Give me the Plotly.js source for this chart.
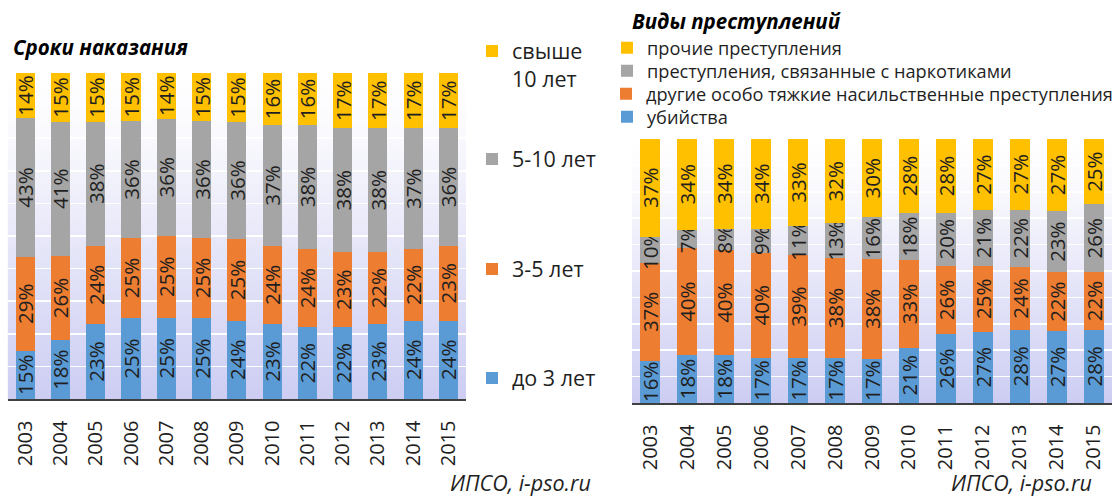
<!DOCTYPE html>
<html>
<head>
<meta charset="utf-8">
<script src="https://cdn.plot.ly/plotly-3.0.1.min.js"></script>
<style>html,body{margin:0;padding:0;background:#fff;}#chart{width:1118px;height:498px;}</style>
</head>
<body>
<div id="chart"></div>
<script>
// ---- data ----
const years = ['2003','2004','2005','2006','2007','2008','2009','2010','2011','2012','2013','2014','2015'];

const leftTitle = 'Сроки наказания';
const termNames = ['до 3 лет', '3-5 лет', '5-10 лет', 'свыше<br>10 лет'];
const termUpTo3 = [15, 18, 23, 25, 25, 25, 24, 23, 22, 22, 23, 24, 24];
const term3to5 = [29, 26, 24, 25, 25, 25, 25, 24, 24, 23, 22, 22, 23];
const term5to10 = [43, 41, 38, 36, 36, 36, 36, 37, 38, 38, 38, 37, 36];
const termOver10 = [14, 15, 15, 15, 14, 15, 15, 16, 16, 17, 17, 17, 17];

const rightTitle = 'Виды преступлений';
const crimeNames = ['убийства', 'другие особо тяжкие насильственные преступления', 'преступления, связанные с наркотиками', 'прочие преступления'];
const crimeMurder = [16, 18, 18, 17, 17, 17, 17, 21, 26, 27, 28, 27, 28];
const crimeViolent = [37, 40, 40, 40, 39, 38, 38, 33, 26, 25, 24, 22, 22];
const crimeDrugs = [10, 7, 8, 9, 11, 13, 16, 18, 20, 21, 22, 23, 26];
const crimeOther = [37, 34, 34, 34, 33, 32, 30, 28, 28, 27, 27, 27, 25];

const sourceText = 'ИПСО, i-pso.ru';

// ---- style ----
const colors = ['#5B9BD5', '#ED7D31', '#A5A5A5', '#FFC000'];
const FONT = 'Open Sans, sans-serif';
const W = 1118, H = 498;
const px = v => v / W;
const py = v => 1 - v / H;

const leftDom = {x: [px(7.6), px(466)], y: [py(399), py(73)]};
const rightDom = {x: [px(632), px(1112)], y: [py(403), py(139)]};

function barTrace(vals, name, i, xa, ya, legendId) {
  return {
    type: 'bar', x: years, y: vals, name: name,
    xaxis: xa, yaxis: ya, legend: legendId,
    marker: {color: colors[i], line: {width: 0}},
    text: vals.map(v => v + '%'),
    textposition: 'inside', textangle: -90, insidetextanchor: 'middle',
    constraintext: 'none', cliponaxis: false,
    textfont: {family: FONT, size: 20.5, color: '#1f1f1f'},
    hoverinfo: 'x+y+name'
  };
}

const leftSeries = [termUpTo3, term3to5, term5to10, termOver10];
const rightSeries = [crimeMurder, crimeViolent, crimeDrugs, crimeOther];

const traces = [];
leftSeries.forEach((s, i) => traces.push(barTrace(s, termNames[i], i, 'x', 'y', 'legend' + (i === 0 ? '' : (i + 1)))));
rightSeries.forEach((s, i) => traces.push(barTrace(s, crimeNames[i], i, 'x2', 'y2', 'legend' + (i + 5))));

const grad = "<svg xmlns='http://www.w3.org/2000/svg' width='100' height='100' preserveAspectRatio='none'><defs><linearGradient id='g' x1='0' y1='0' x2='0' y2='1'><stop offset='0' stop-color='#ffffff'/><stop offset='0.15' stop-color='#fbfbfe'/><stop offset='1' stop-color='#cdcdf3'/></linearGradient></defs><rect width='100' height='100' fill='url(#g)'/></svg>";
const gradSrc = 'data:image/svg+xml;charset=utf-8,' + encodeURIComponent(grad);

function bgImage(dom) {
  return {source: gradSrc, xref: 'paper', yref: 'paper', x: dom.x[0], y: dom.y[1],
    sizex: dom.x[1] - dom.x[0], sizey: dom.y[1] - dom.y[0], sizing: 'stretch',
    xanchor: 'left', yanchor: 'top', layer: 'below'};
}

const xaxisBase = {
  type: 'category', showgrid: false, zeroline: false,
  showline: true, linecolor: '#404040', linewidth: 1.5,
  tickangle: -90, ticks: '', ticklabelstandoff: 12,
  tickfont: {family: FONT, size: 20, color: '#1f1f1f'}, fixedrange: true
};
const yaxisBase = {
  range: [0, 100], dtick: 10, showgrid: true, gridcolor: '#ffffff', gridwidth: 1.5,
  showticklabels: false, zeroline: false, showline: false, ticks: '', fixedrange: true
};

function legendAt(xpx, ypx, size, anchorRight) {
  return {x: anchorRight ? 1 : px(xpx), y: py(ypx), xanchor: anchorRight ? 'right' : 'left', yanchor: 'middle', valign: 'top',
    bgcolor: 'rgba(0,0,0,0)', borderwidth: 0, font: {family: FONT, size: size, color: '#1f1f1f'},
    itemclick: false, itemdoubleclick: false};
}

function note(text, xpx, ypx, font, yanch) {
  return {text: text, xref: 'paper', yref: 'paper', x: px(xpx), y: py(ypx), xanchor: 'left', yanchor: yanch || 'middle',
    showarrow: false, borderpad: 0, font: font};
}

const titleFont = {family: FONT, size: 20.5, color: '#000', weight: 'bold', style: 'italic'};
const sourceFont = {family: FONT, size: 21.5, color: '#1f1f1f', style: 'italic'};

const layout = {
  width: W, height: H,
  margin: {l: 0, r: 0, t: 0, b: 0},
  paper_bgcolor: '#ffffff', plot_bgcolor: 'rgba(0,0,0,0)',
  barmode: 'stack', barnorm: 'percent', bargap: 0.46,
  showlegend: true,
  xaxis: Object.assign({}, xaxisBase, {domain: leftDom.x, anchor: 'y'}),
  yaxis: Object.assign({}, yaxisBase, {domain: leftDom.y, anchor: 'x'}),
  xaxis2: Object.assign({}, xaxisBase, {domain: rightDom.x, anchor: 'y2'}),
  yaxis2: Object.assign({}, yaxisBase, {domain: rightDom.y, anchor: 'x2'}),
  legend: legendAt(472, 378, 21.5),
  legend2: legendAt(472, 269, 21.5),
  legend3: legendAt(472, 159, 21.5),
  legend4: legendAt(472, 65, 21.5),
  legend5: legendAt(607, 117, 18.2),
  legend6: legendAt(607, 94, 18.2, true),
  legend7: legendAt(607, 71, 18.2),
  legend8: legendAt(607, 48, 18.2),
  images: [bgImage(leftDom), bgImage(rightDom)],
  annotations: [
    note(leftTitle, 12, 47, titleFont),
    note(rightTitle, 631, 21, titleFont),
    note(sourceText, 449, 498, sourceFont, 'bottom'),
    note(sourceText, 950, 498, sourceFont, 'bottom')
  ]
};

Plotly.newPlot('chart', traces, layout, {displayModeBar: false, staticPlot: true});
</script>
</body>
</html>
